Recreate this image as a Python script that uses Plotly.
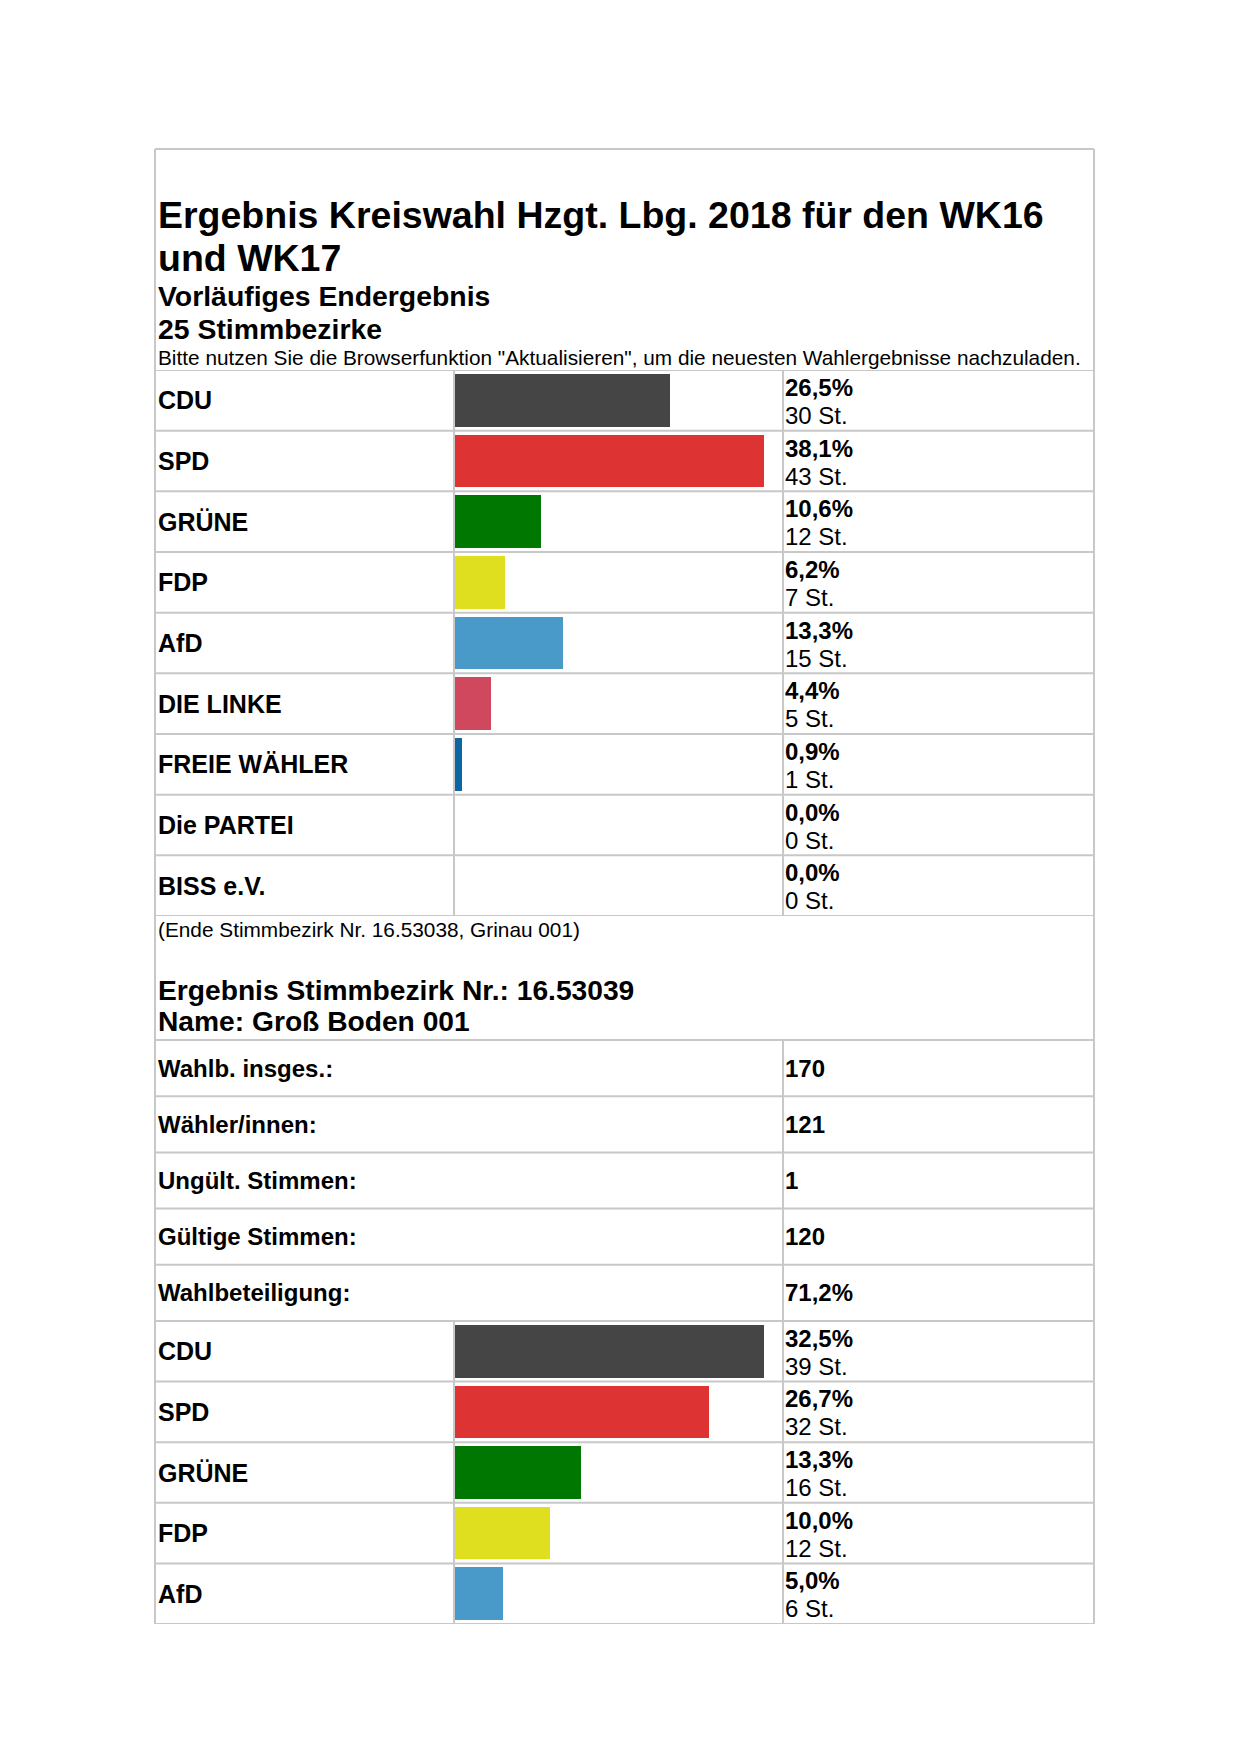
import plotly.graph_objects as go

W, H = 1240, 1754

# ---------------- data ----------------
title_lines = ["Ergebnis Kreiswahl Hzgt. Lbg. 2018 für den WK16", "und WK17"]
subtitle_lines = ["Vorläufiges Endergebnis", "25 Stimmbezirke"]
note_text = 'Bitte nutzen Sie die Browserfunktion "Aktualisieren", um die neuesten Wahlergebnisse nachzuladen.'

parties1 = ["CDU", "SPD", "GRÜNE", "FDP", "AfD", "DIE LINKE", "FREIE WÄHLER", "Die PARTEI", "BISS e.V."]
pct1 = [26.5, 38.1, 10.6, 6.2, 13.3, 4.4, 0.9, 0.0, 0.0]
votes1 = [30, 43, 12, 7, 15, 5, 1, 0, 0]

end_note = "(Ende Stimmbezirk Nr. 16.53038, Grinau 001)"
district_lines = ["Ergebnis Stimmbezirk Nr.: 16.53039", "Name: Groß Boden 001"]

stat_labels = ["Wahlb. insges.:", "Wähler/innen:", "Ungült. Stimmen:", "Gültige Stimmen:", "Wahlbeteiligung:"]
stat_values = ["170", "121", "1", "120", "71,2%"]

parties2 = ["CDU", "SPD", "GRÜNE", "FDP", "AfD"]
pct2 = [32.5, 26.7, 13.3, 10.0, 5.0]
votes2 = [39, 32, 16, 12, 6]

party_colors = {
    "CDU": "#454545", "SPD": "#dd3333", "GRÜNE": "#007700", "FDP": "#e0df1f",
    "AfD": "#4a9ac9", "DIE LINKE": "#d0485e", "FREIE WÄHLER": "#0b66a3",
    "Die PARTEI": "#888888", "BISS e.V.": "#888888",
}

# ---------------- layout helpers (page pixels -> paper) ----------------
OFF = 8  # default body margin of the html page

def px(x):
    return (x - OFF) / W

def py(y):
    return 1 - (y - OFF) / H

FONT = "Liberation Sans, Arial, sans-serif"
GRID = "#c8c8c8"
LEFT, RIGHT, TOP, BOTTOM = 155, 1094, 149, 1624
COL1, COL2 = 454, 783
TEXT_X = 156
VAL_X = 783

sec1_top, sec1_bot = 370, 916
stat_top, stat_bot = 1040, 1321
sec2_top, sec2_bot = 1321, 1624

fig = go.Figure()

def fmt(v):
    return f"{v:.1f}".replace(".", ",") + "%"

def add_section(parties, pct, votes, xa, ya, top, bot):
    fig.add_trace(go.Bar(
        y=parties, x=pct, orientation="h", width=0.87,
        marker=dict(color=[party_colors[p] for p in parties], line=dict(width=0)),
        xaxis=xa, yaxis=ya, hoverinfo="skip", showlegend=False,
    ))
    yref = ya
    for i, p in enumerate(parties):
        fig.add_annotation(x=px(TEXT_X), y=p, xref="paper", yref=yref, text=f"<b>{p}</b>",
                           showarrow=False, xanchor="left", yanchor="middle",
                           font=dict(family=FONT, size=25, color="black"))
        fig.add_annotation(x=px(VAL_X), y=p, xref="paper", yref=yref, text=f"<b>{fmt(pct[i])}</b>",
                           showarrow=False, xanchor="left", yanchor="middle", yshift=13,
                           font=dict(family=FONT, size=24, color="black"))
        fig.add_annotation(x=px(VAL_X), y=p, xref="paper", yref=yref, text=f"{votes[i]} St.",
                           showarrow=False, xanchor="left", yanchor="middle", yshift=-15,
                           font=dict(family=FONT, size=24, color="black"))
    n = len(parties)
    for k in range(n + 1):
        fig.add_shape(type="line", xref="paper", yref=yref, x0=px(LEFT), x1=px(RIGHT),
                      y0=k - 0.5, y1=k - 0.5, line=dict(color=GRID, width=2))
    for cx in (COL1, COL2):
        fig.add_shape(type="line", xref="paper", yref="paper", x0=px(cx), x1=px(cx),
                      y0=py(bot), y1=py(top), line=dict(color=GRID, width=2))

bar_x0, bar_x1 = 455, 783
fill = 0.942  # the largest bar fills this share of the bar column
add_section(parties1, pct1, votes1, "x", "y", sec1_top, sec1_bot)
add_section(parties2, pct2, votes2, "x2", "y2", sec2_top, sec2_bot)

common_x = dict(showgrid=False, zeroline=False, showticklabels=False, showline=False, fixedrange=True)
common_y = dict(showgrid=False, zeroline=False, showticklabels=False, showline=False, type="category",
                fixedrange=True)

fig.update_layout(
    xaxis=dict(domain=[px(bar_x0), px(bar_x1)], range=[0, max(pct1) / fill], anchor="y", **common_x),
    yaxis=dict(domain=[py(sec1_bot), py(sec1_top)], range=[len(parties1) - 0.5, -0.5],
               anchor="x", **common_y),
    xaxis2=dict(domain=[px(bar_x0), px(bar_x1)], range=[0, max(pct2) / fill], anchor="y2", **common_x),
    yaxis2=dict(domain=[py(sec2_bot), py(sec2_top)], range=[len(parties2) - 0.5, -0.5],
                anchor="x2", **common_y),
)

# stat rows
n_stat = len(stat_labels)
row_h = (stat_bot - stat_top) / n_stat
for i, (lab, val) in enumerate(zip(stat_labels, stat_values)):
    cy = stat_top + (i + 0.5) * row_h
    fig.add_annotation(x=px(TEXT_X), y=py(cy), xref="paper", yref="paper", text=f"<b>{lab}</b>",
                       showarrow=False, xanchor="left", yanchor="middle",
                       font=dict(family=FONT, size=24, color="black"))
    fig.add_annotation(x=px(VAL_X), y=py(cy), xref="paper", yref="paper", text=f"<b>{val}</b>",
                       showarrow=False, xanchor="left", yanchor="middle",
                       font=dict(family=FONT, size=24, color="black"))
for k in range(n_stat + 1):
    yy = stat_top + k * row_h
    fig.add_shape(type="line", xref="paper", yref="paper", x0=px(LEFT), x1=px(RIGHT),
                  y0=py(yy), y1=py(yy), line=dict(color=GRID, width=2))
fig.add_shape(type="line", xref="paper", yref="paper", x0=px(COL2), x1=px(COL2),
              y0=py(stat_bot), y1=py(stat_top), line=dict(color=GRID, width=2))

# outer frame
fig.add_shape(type="line", xref="paper", yref="paper", x0=px(LEFT), x1=px(RIGHT),
              y0=py(TOP), y1=py(TOP), line=dict(color=GRID, width=2))
for xx in (LEFT, RIGHT):
    fig.add_shape(type="line", xref="paper", yref="paper", x0=px(xx), x1=px(xx),
                  y0=py(BOTTOM), y1=py(TOP), line=dict(color=GRID, width=2))

def txt(x, y, s, size, bold=False):
    fig.add_annotation(x=px(x), y=py(y), xref="paper", yref="paper",
                       text=f"<b>{s}</b>" if bold else s, showarrow=False,
                       xanchor="left", yanchor="middle",
                       font=dict(family=FONT, size=size, color="black"))

txt(TEXT_X, 215, title_lines[0], 37.5, True)
txt(TEXT_X, 258, title_lines[1], 37.5, True)
txt(TEXT_X, 296, subtitle_lines[0], 28.4, True)
txt(TEXT_X, 329, subtitle_lines[1], 28.4, True)
txt(TEXT_X, 357, note_text, 20.8)
txt(TEXT_X, 929, end_note, 20.8)
txt(TEXT_X, 990, district_lines[0], 28.2, True)
txt(TEXT_X, 1021, district_lines[1], 28.2, True)

fig.update_layout(
    width=W, height=H, margin=dict(l=0, r=0, t=0, b=0),
    paper_bgcolor="white", plot_bgcolor="rgba(0,0,0,0)", showlegend=False, bargap=0,
)

fig.write_html("out.html", config={"displayModeBar": False})
